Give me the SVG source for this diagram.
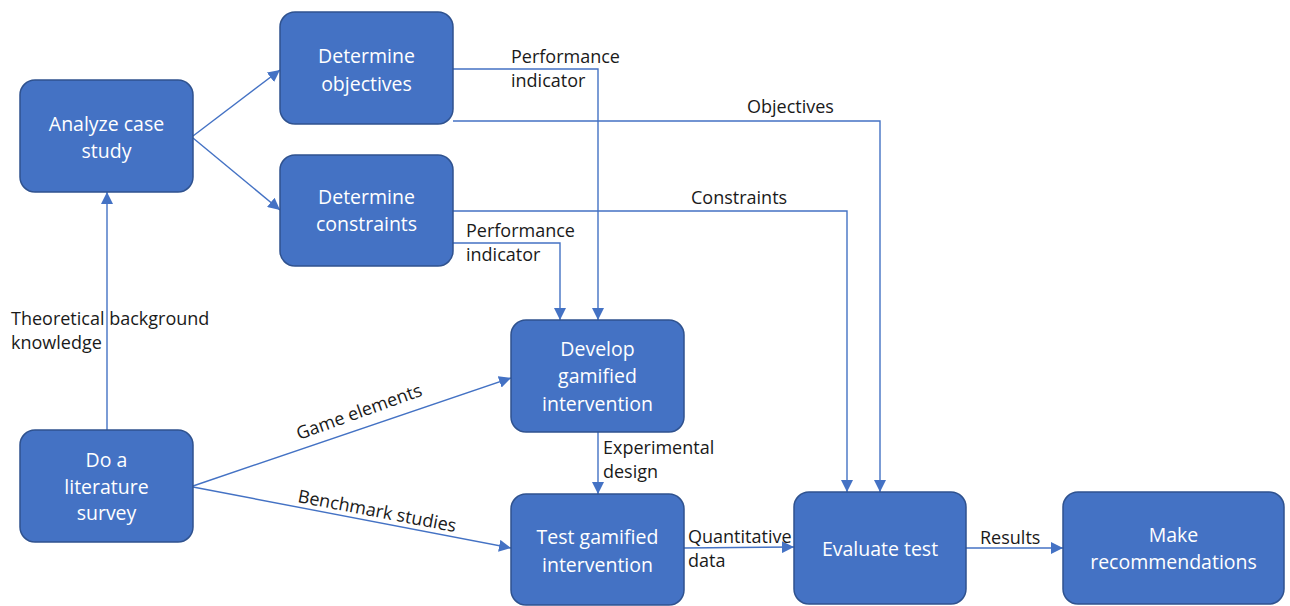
<svg xmlns="http://www.w3.org/2000/svg" width="1290" height="606" viewBox="0 0 1290 606">
<style>
.node rect{fill:#4472C4;stroke:#2F528F;stroke-width:1.5}
.node text{fill:#fff;font-family:"Open Sans","DejaVu Sans",sans-serif;font-size:19.5px;text-anchor:middle}
.lbl{fill:#1a1a1a;font-family:"Open Sans","DejaVu Sans",sans-serif;font-size:18px}
#connectors path{fill:none;stroke:#4472C4;stroke-width:1.4;marker-end:url(#arr)}
</style>
<defs>
<marker id="arr" markerUnits="userSpaceOnUse" markerWidth="14" markerHeight="12" refX="12" refY="6" orient="auto">
<path d="M0,0 L12,6 L0,12 z" fill="#4472C4"/>
</marker>
</defs>
<rect width="1290" height="606" fill="#fff"/>
<g id="connectors">
<path d="M193,136 L280,70"/>
<path d="M193,138 L280,210"/>
<path d="M107,430 L107,192"/>
<path d="M453,69 L598,69 L598,320"/>
<path d="M453,121 L880,121 L880,492"/>
<path d="M453,211 L847,211 L847,492"/>
<path d="M453,243 L560,243 L560,320"/>
<path d="M193,486 L511,378"/>
<path d="M193,487 L511,548"/>
<path d="M598,432 L598,494"/>
<path d="M684,548 L794,547"/>
<path d="M966,548 L1063,548"/>
</g>
<g id="labels">
<text class="lbl" x="511" y="63">Performance</text>
<text class="lbl" x="511" y="87">indicator</text>
<text class="lbl" x="747" y="113">Objectives</text>
<text class="lbl" x="691" y="204">Constraints</text>
<text class="lbl" x="466" y="237">Performance</text>
<text class="lbl" x="466" y="261">indicator</text>
<text class="lbl" x="11" y="325">Theoretical background</text>
<text class="lbl" x="11" y="349">knowledge</text>
<text class="lbl" transform="translate(299,440) rotate(-19.8)">Game elements</text>
<text class="lbl" transform="translate(297,502) rotate(10.8)">Benchmark studies</text>
<text class="lbl" x="603" y="454">Experimental</text>
<text class="lbl" x="603" y="478">design</text>
<text class="lbl" x="688" y="543">Quantitative</text>
<text class="lbl" x="688" y="567">data</text>
<text class="lbl" x="980" y="544">Results</text>
</g>
<g id="analyze" class="node"><rect x="20" y="80" width="173" height="112" rx="15"/><text x="106.5" y="131">Analyze case</text><text x="106.5" y="158">study</text></g>
<g id="objectives" class="node"><rect x="280" y="12" width="173" height="112" rx="15"/><text x="366.5" y="63">Determine</text><text x="366.5" y="91">objectives</text></g>
<g id="constraints" class="node"><rect x="280" y="155" width="173" height="111" rx="15"/><text x="366.5" y="204">Determine</text><text x="366.5" y="231">constraints</text></g>
<g id="literature" class="node"><rect x="20" y="430" width="173" height="112" rx="15"/><text x="106.5" y="467">Do a</text><text x="106.5" y="494">literature</text><text x="106.5" y="520">survey</text></g>
<g id="develop" class="node"><rect x="511" y="320" width="173" height="112" rx="15"/><text x="597.5" y="356">Develop</text><text x="597.5" y="383">gamified</text><text x="597.5" y="411">intervention</text></g>
<g id="test" class="node"><rect x="511" y="494" width="173" height="111" rx="15"/><text x="597.5" y="544">Test gamified</text><text x="597.5" y="572">intervention</text></g>
<g id="evaluate" class="node"><rect x="794" y="492" width="172" height="112" rx="15"/><text x="880" y="556">Evaluate test</text></g>
<g id="recommend" class="node"><rect x="1063" y="492" width="221" height="112" rx="15"/><text x="1173.5" y="542">Make</text><text x="1173.5" y="569">recommendations</text></g>
</svg>
